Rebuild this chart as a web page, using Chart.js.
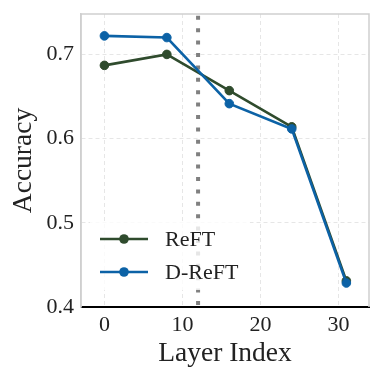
<!DOCTYPE html>
<html>
<head>
<meta charset="utf-8">
<script src="https://cdn.jsdelivr.net/npm/chart.js@4/dist/chart.umd.min.js"></script>
<style>
  body { margin: 0; background: #fff; }
  canvas { display: block; }
</style>
</head>
<body>
<canvas id="layer_chart" width="383" height="383"></canvas>
<script>
const layers = [0, 8, 16, 24, 31];
const reftAcc = [0.687, 0.700, 0.657, 0.614, 0.431];
const dreftAcc = [0.722, 0.720, 0.6415, 0.6115, 0.4285];
const markerLayer = 12;
const xRange = [-3, 33.9];
const yRange = [0.4, 0.748];

const SERIF = "'Liberation Serif', 'DejaVu Serif', serif";
const TEXT = '#222';

const toPoints = (xs, ys) => xs.map((x, i) => ({ x: x, y: ys[i] }));

// light frame on top/right, left border comes from the y axis
const framePlugin = {
    id: 'frame',
    beforeDatasetsDraw(chart) {
        const { ctx, chartArea: a } = chart;
        ctx.save();
        ctx.strokeStyle = '#cfcfcf';
        ctx.lineWidth = 1.5;
        ctx.beginPath();
        ctx.moveTo(a.left, a.bottom);
        ctx.lineTo(a.left, a.top);
        ctx.lineTo(a.right, a.top);
        ctx.lineTo(a.right, a.bottom);
        ctx.stroke();
        ctx.restore();
    }
};

// legend box in lower left of the plot
const legendPlugin = {
    id: 'innerLegend',
    afterDatasetsDraw(chart) {
        const { ctx, chartArea: a } = chart;
        const sets = chart.data.datasets.filter(d => d.label);
        ctx.save();
        ctx.fillStyle = 'rgba(255,255,255,0.8)';
        ctx.fillRect(a.left + 9, 222, 160, 68);
        sets.forEach((d, i) => {
            const y = 239 + i * 33;
            ctx.strokeStyle = d.borderColor;
            ctx.lineWidth = d.borderWidth;
            ctx.beginPath();
            ctx.moveTo(100, y);
            ctx.lineTo(148, y);
            ctx.stroke();
            ctx.fillStyle = d.borderColor;
            ctx.beginPath();
            ctx.arc(124, y, 4.8, 0, Math.PI * 2);
            ctx.fill();
            ctx.fillStyle = TEXT;
            ctx.font = '22px ' + SERIF;
            ctx.textBaseline = 'middle';
            ctx.fillText(d.label, 165, y + 1);
        });
        ctx.restore();
    }
};

const layer_ctx = document.getElementById('layer_chart').getContext('2d');

const layer_config = {
    type: 'scatter',
    data: {
        datasets: [{
            label: 'ReFT',
            data: toPoints(layers, reftAcc),
            showLine: true,
            borderColor: '#2f4b2d',
            backgroundColor: '#2f4b2d',
            borderWidth: 2.6,
            pointRadius: 4.3,
            pointBorderWidth: 1,
            order: 2
        }, {
            label: 'D-ReFT',
            data: toPoints(layers, dreftAcc),
            showLine: true,
            borderColor: '#0c62a6',
            backgroundColor: '#0c62a6',
            borderWidth: 2.6,
            pointRadius: 4.3,
            pointBorderWidth: 1,
            order: 1
        }, {
            label: '',
            data: [{ x: markerLayer, y: yRange[0] }, { x: markerLayer, y: yRange[1] }],
            showLine: true,
            borderColor: '#808080',
            borderWidth: 4,
            borderDash: [4, 8.4],
            borderDashOffset: -2,
            borderCapStyle: 'butt',
            pointRadius: 0,
            order: 3
        }]
    },
    options: {
        responsive: false,
        animation: false,
        layout: { padding: { left: 0, right: 14, top: 14, bottom: 0 } },
        plugins: {
            legend: { display: false },
            tooltip: { enabled: false }
        },
        scales: {
            x: {
                type: 'linear',
                min: xRange[0],
                max: xRange[1],
                afterFit(scale) {
                    scale.height = 76;
                    scale.paddingLeft = 0;
                    scale.paddingRight = 0;
                },
                ticks: {
                    stepSize: 10,
                    includeBounds: false,
                    padding: 5,
                    color: TEXT,
                    font: { family: SERIF, size: 22 }
                },
                grid: { color: '#e6e6e6', lineWidth: 1, drawTicks: false },
                border: { color: '#000', width: 2, dash: [4, 3] },
                title: {
                    display: true,
                    text: 'Layer Index',
                    color: TEXT,
                    font: { family: SERIF, size: 27.5 },
                    padding: { top: 0, bottom: 13 }
                }
            },
            y: {
                min: yRange[0],
                max: yRange[1],
                afterFit(scale) {
                    scale.width = 81;
                    scale.paddingTop = 0;
                    scale.paddingBottom = 0;
                },
                ticks: {
                    stepSize: 0.1,
                    includeBounds: false,
                    padding: 7,
                    color: TEXT,
                    font: { family: SERIF, size: 22 },
                    callback: v => v.toFixed(1)
                },
                grid: { color: '#e6e6e6', lineWidth: 1, drawTicks: false },
                border: { color: '#cfcfcf', width: 1.5, dash: [4, 3] },
                title: {
                    display: true,
                    text: 'Accuracy',
                    color: TEXT,
                    font: { family: SERIF, size: 27.5 },
                    padding: { top: 7, bottom: 0 }
                }
            }
        }
    },
    plugins: [framePlugin, legendPlugin]
};

const layer_chart = new Chart(layer_ctx, layer_config);
</script>
</body>
</html>
